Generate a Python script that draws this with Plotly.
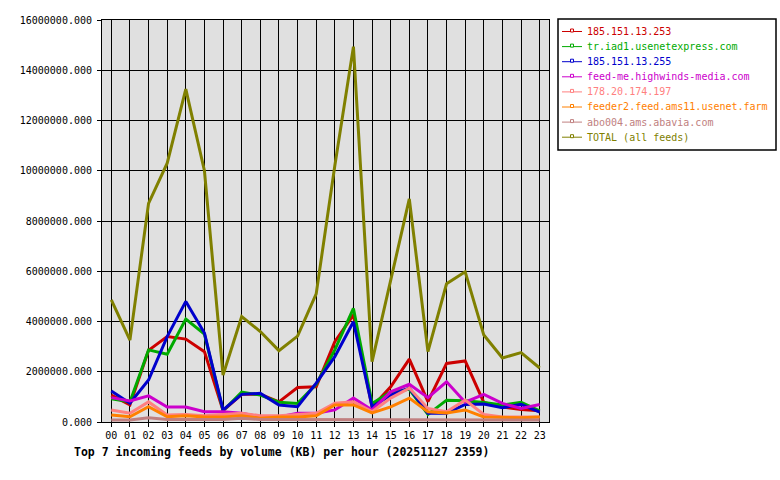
import plotly.graph_objects as go

hours = [f"{h:02d}" for h in range(24)]
M = 1_000_000

names = ["185.151.13.253", "tr.iad1.usenetexpress.com", "185.151.13.255",
         "feed-me.highwinds-media.com", "178.20.174.197",
         "feeder2.feed.ams11.usenet.farm", "abo004.ams.abavia.com", "TOTAL (all feeds)"]
colors = ["#cc0000", "#00aa00", "#0000cc", "#cc00cc", "#ff8080", "#ff8000", "#c08080", "#808000"]

feed_253 = [1.07, 0.68, 2.85, 3.40, 3.30, 2.80, 0.45, 1.10, 1.10, 0.80, 1.37, 1.40,
            3.20, 4.26, 0.60, 1.40, 2.50, 0.81, 2.33, 2.43, 0.78, 0.60, 0.50, 0.45]
feed_usenetexpress = [0.92, 0.80, 2.87, 2.70, 4.10, 3.50, 0.45, 1.19, 1.07, 0.79, 0.74, 1.50,
                      2.87, 4.52, 0.74, 1.20, 1.30, 0.30, 0.87, 0.85, 0.78, 0.68, 0.78, 0.44]
feed_255 = [1.23, 0.75, 1.67, 3.40, 4.80, 3.54, 0.48, 1.10, 1.14, 0.68, 0.61, 1.55,
            2.60, 3.99, 0.61, 1.07, 1.35, 0.35, 0.35, 0.70, 0.72, 0.57, 0.70, 0.39]
feed_highwinds = [0.97, 0.84, 1.04, 0.60, 0.60, 0.41, 0.41, 0.35, 0.20, 0.20, 0.35, 0.35,
                  0.48, 0.95, 0.48, 1.20, 1.50, 0.97, 1.60, 0.79, 1.10, 0.74, 0.54, 0.70]
feed_178 = [0.48, 0.35, 0.80, 0.28, 0.30, 0.25, 0.30, 0.35, 0.25, 0.25, 0.30, 0.35,
            0.75, 0.80, 0.41, 0.95, 1.35, 0.54, 0.41, 0.87, 0.30, 0.20, 0.20, 0.20]
feed_ams11 = [0.28, 0.21, 0.61, 0.21, 0.25, 0.20, 0.20, 0.25, 0.15, 0.20, 0.20, 0.25,
              0.68, 0.68, 0.36, 0.60, 0.95, 0.41, 0.36, 0.48, 0.20, 0.17, 0.17, 0.20]
feed_abavia = [0.08, 0.08, 0.17, 0.10, 0.10, 0.10, 0.10, 0.15, 0.10, 0.10, 0.10, 0.10,
               0.10, 0.10, 0.10, 0.10, 0.10, 0.08, 0.08, 0.08, 0.08, 0.08, 0.08, 0.08]
total = [4.86, 3.26, 8.70, 10.30, 13.25, 10.00, 1.87, 4.20, 3.60, 2.84, 3.42, 5.10,
         10.20, 14.94, 2.40, 5.60, 8.88, 2.80, 5.50, 5.98, 3.46, 2.55, 2.76, 2.15]

series = [feed_253, feed_usenetexpress, feed_255, feed_highwinds,
          feed_178, feed_ams11, feed_abavia, total]

MONO = "DejaVu Sans Mono, Liberation Mono, monospace"

# plot area geometry in pixels
L, R, T, B = 102, 549, 20, 422
W, H = 780, 480


def px(xp):
    return (xp - L) / (R - L)


def py(yp):
    return (B - yp) / (B - T)


fig = go.Figure()
x = list(range(24))
for name, col, vals in zip(names, colors, series):
    fig.add_trace(go.Scatter(
        x=x, y=[v * M for v in vals], mode="lines", name=name,
        line=dict(color=col, width=3), showlegend=False, hoverinfo="skip"))

# manual legend (box, line samples, labels)
shapes = [dict(type="rect", xref="paper", yref="paper",
               x0=px(558), x1=px(776), y0=py(19), y1=py(150),
               line=dict(color="black", width=1.5), fillcolor="white", layer="above")]
annotations = []
for i, (name, col) in enumerate(zip(names, colors)):
    yy = 31.5 + 15.1 * i
    shapes.append(dict(type="line", xref="paper", yref="paper",
                       x0=px(562), x1=px(582), y0=py(yy), y1=py(yy),
                       line=dict(color=col, width=1), layer="above"))
    shapes.append(dict(type="rect", xref="paper", yref="paper",
                       x0=px(570.5), x1=px(573.5), y0=py(yy - 2.5), y1=py(yy + 0.5),
                       line=dict(color=col, width=1), fillcolor="white", layer="above"))
    annotations.append(dict(text=name, xref="paper", yref="paper",
                            x=px(585), y=py(yy), xanchor="left", yanchor="middle",
                            showarrow=False, font=dict(family=MONO, size=10, color=col)))

annotations.append(dict(text="<b>Top 7 incoming feeds by volume (KB) per hour (20251127 2359)</b>",
                        xref="paper", yref="paper", x=px(72), y=py(452),
                        xanchor="left", yanchor="middle", showarrow=False,
                        font=dict(family=MONO, size=11.5, color="black")))

fig.update_layout(
    width=W, height=H,
    margin=dict(l=L, r=W - R, t=T, b=H - B, pad=0),
    paper_bgcolor="white", plot_bgcolor="#e0e0e0",
    font=dict(family=MONO, size=10, color="black"),
    showlegend=False,
    xaxis=dict(range=[-0.5, 23.5], tickmode="array", tickvals=x, ticktext=hours,
               showgrid=True, gridcolor="black", gridwidth=1,
               ticks="outside", ticklen=4, tickcolor="black",
               showline=True, linecolor="black", linewidth=1, mirror=True,
               zeroline=False, tickfont=dict(family=MONO, size=10)),
    yaxis=dict(range=[0, 16 * M], tickmode="array",
               tickvals=[i * 2 * M for i in range(9)],
               ticktext=[f"{i * 2 * M}.000" for i in range(9)],
               showgrid=True, gridcolor="black", gridwidth=1,
               ticks="outside", ticklen=4, tickcolor="black",
               showline=True, linecolor="black", linewidth=1, mirror=True,
               zeroline=False, tickfont=dict(family=MONO, size=10),
               ticklabelstandoff=3),
    shapes=shapes,
    annotations=annotations,
)

fig.write_html("out.html")
